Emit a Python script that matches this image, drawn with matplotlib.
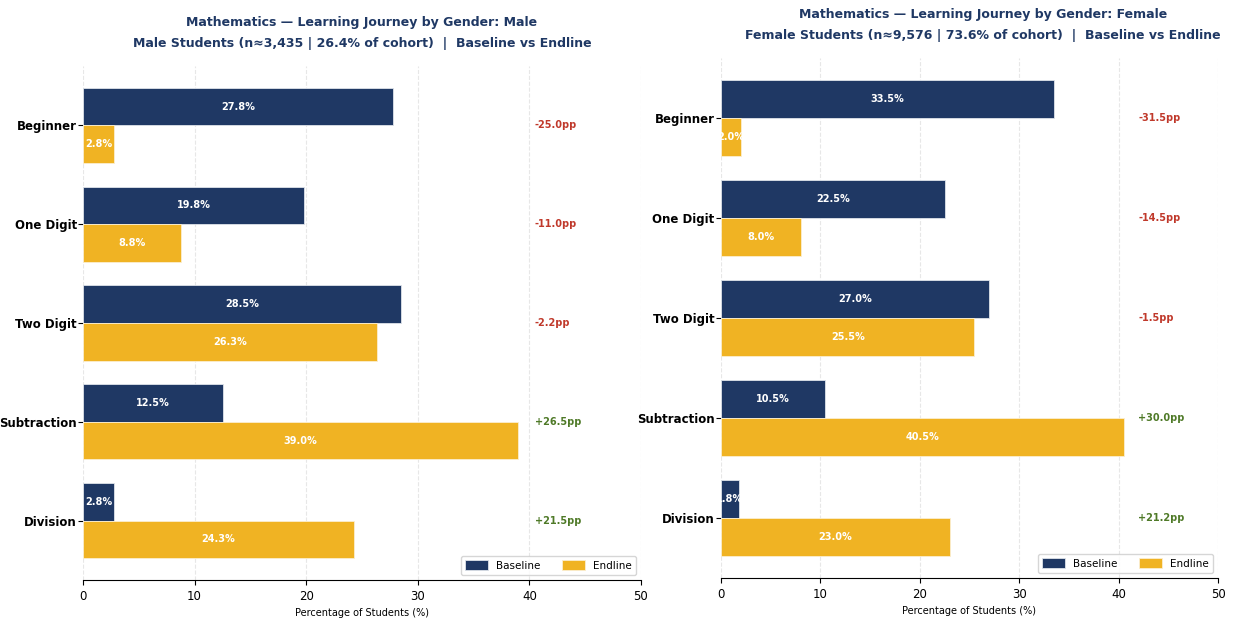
import numpy as np
import matplotlib.pyplot as plt

levels = ['Beginner', 'One Digit', 'Two Digit', 'Subtraction', 'Division']
male_base = [27.8, 19.8, 28.5, 12.5, 2.8]
male_end = [2.8, 8.8, 26.3, 39.0, 24.3]
female_base = [33.5, 22.5, 27.0, 10.5, 1.8]
female_end = [2.0, 8.0, 25.5, 40.5, 23.0]
titles = ['Mathematics — Learning Journey by Gender: Male\n'
          'Male Students (n≈3,435 | 26.4% of cohort)  |  Baseline vs Endline',
          'Mathematics — Learning Journey by Gender: Female\n'
          'Female Students (n≈9,576 | 73.6% of cohort)  |  Baseline vs Endline']

navy = '#1f3864'
gold = '#f0b323'
plt.rcParams['font.family'] = 'DejaVu Sans'

fig = plt.figure(figsize=(12.43, 6.23), dpi=100)
axes = [fig.add_axes([83/1243, 43/623, 558/1243, 514/623]),
        fig.add_axes([721/1243, 45/623, 497/1243, 520/623])]
title_x = [0.5, 0.527]

data = [(male_base, male_end), (female_base, female_end)]
y = np.arange(len(levels))
h = 0.38

for ax, (base, end), title, tx in zip(axes, data, titles, title_x):
    b1 = ax.barh(y - h/2, base, h, color=navy, edgecolor='#dfe3ea', linewidth=0.6, label='Baseline')
    b2 = ax.barh(y + h/2, end, h, color=gold, edgecolor='#fbeed0', linewidth=0.6, label='Endline')
    for bars in (b1, b2):
        for bar in bars:
            w = bar.get_width()
            ax.text(w / 2, bar.get_y() + bar.get_height() / 2, f'{w:.1f}%',
                    ha='center', va='center', color='white', fontsize=7, fontweight='bold')
    xpos = max(max(base), max(end)) + 1.5
    for i in range(len(levels)):
        d = end[i] - base[i]
        col = '#4f7a28' if d > 0 else '#c0392b'
        ax.text(xpos, y[i], f'{d:+.1f}pp', ha='left', va='center',
                color=col, fontsize=7, fontweight='bold')
    ax.set_yticks(y)
    ax.set_yticklabels(levels, fontsize=8.5, fontweight='bold')
    ax.tick_params(axis='y', pad=1)
    ax.set_ylim(4.6, -0.6)
    ax.set_xlim(0, 50)
    ax.set_xticks([0, 10, 20, 30, 40, 50])
    ax.tick_params(axis='x', labelsize=8.5)
    ax.set_xlabel('Percentage of Students (%)', fontsize=7)
    ax.set_title(title, fontsize=9, fontweight='bold', color=navy, pad=14,
                 x=tx, linespacing=1.75)
    ax.grid(axis='x', linestyle='--', alpha=0.3)
    ax.set_axisbelow(True)
    for s in ['top', 'right', 'left']:
        ax.spines[s].set_visible(False)
    ax.legend(loc='lower right', ncol=2, fontsize=7.5, frameon=True,
              handlelength=2.2, handleheight=1.1)

fig.savefig('out.png', dpi=100)
